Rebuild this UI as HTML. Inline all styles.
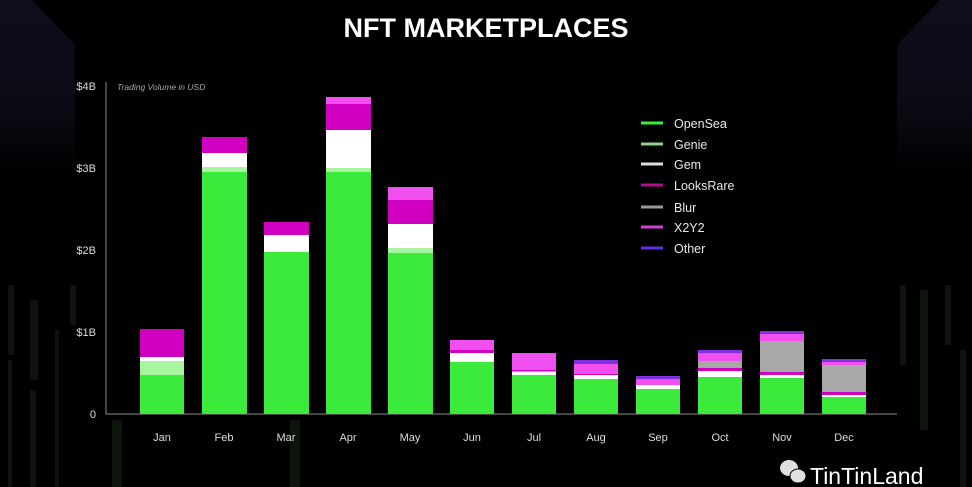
<!DOCTYPE html>
<html><head><meta charset="utf-8"><style>
html,body{margin:0;padding:0;background:#000;}
svg{display:block;font-family:"Liberation Sans",sans-serif;}
</style></head><body>
<svg width="972" height="487" viewBox="0 0 972 487" xmlns="http://www.w3.org/2000/svg">
<defs>
<linearGradient id="cg" x1="0" y1="0" x2="0" y2="1">
<stop offset="0" stop-color="#0e0e1c"/><stop offset="0.6" stop-color="#0b0b16"/><stop offset="1" stop-color="#000"/>
</linearGradient>
</defs>
<rect width="972" height="487" fill="#000"/>
<polygon points="0,0 32,0 75,45 75,175 0,175" fill="url(#cg)"/>
<polygon points="972,0 940,0 897,45 897,175 972,175" fill="url(#cg)"/>
<g fill="#0f1a0f" opacity="0.8">
<rect x="8" y="285" width="6" height="70"/><rect x="30" y="300" width="8" height="80"/><rect x="70" y="285" width="6" height="40"/>
<rect x="8" y="360" width="4" height="127"/><rect x="30" y="390" width="6" height="97"/><rect x="55" y="330" width="4" height="157"/>
<rect x="900" y="285" width="6" height="80"/><rect x="920" y="290" width="8" height="140"/><rect x="945" y="285" width="6" height="60"/><rect x="960" y="350" width="6" height="137"/>
<rect x="112" y="420" width="10" height="67"/><rect x="290" y="420" width="10" height="67"/>
</g>
<text x="486" y="37" text-anchor="middle" fill="#fff" font-size="27" font-weight="bold">NFT MARKETPLACES</text>
<g fill="#ddd" font-size="11" text-anchor="end">
<text x="96" y="90">$4B</text><text x="96" y="172">$3B</text><text x="96" y="254">$2B</text><text x="96" y="336">$1B</text><text x="96" y="418">0</text>
</g>
<text x="117" y="90" fill="#aaa" font-size="8.5" font-style="italic">Trading Volume in USD</text>
<line x1="106" y1="82" x2="106" y2="414" stroke="#888" stroke-width="1"/>
<line x1="106" y1="414" x2="897" y2="414" stroke="#888" stroke-width="1"/>
<g>
<rect x="140" y="329" width="44" height="28" fill="#d100c0"/><rect x="140" y="357" width="44" height="4" fill="#fff"/><rect x="140" y="361" width="44" height="14" fill="#a8f5a0"/><rect x="140" y="375" width="44" height="39" fill="#3cea3c"/>
<rect x="202" y="137" width="45" height="16" fill="#d100c0"/><rect x="202" y="153" width="45" height="14" fill="#fff"/><rect x="202" y="167" width="45" height="5" fill="#a8f5a0"/><rect x="202" y="172" width="45" height="242" fill="#3cea3c"/>
<rect x="264" y="222" width="45" height="13" fill="#d100c0"/><rect x="264" y="235" width="45" height="17" fill="#fff"/><rect x="264" y="252" width="45" height="162" fill="#3cea3c"/>
<rect x="326" y="97" width="45" height="7" fill="#f050f0"/><rect x="326" y="104" width="45" height="26" fill="#d100c0"/><rect x="326" y="130" width="45" height="38" fill="#fff"/><rect x="326" y="168" width="45" height="4" fill="#a8f5a0"/><rect x="326" y="172" width="45" height="242" fill="#3cea3c"/>
<rect x="388" y="187" width="45" height="13" fill="#f050f0"/><rect x="388" y="200" width="45" height="24" fill="#d100c0"/><rect x="388" y="224" width="45" height="24" fill="#fff"/><rect x="388" y="248" width="45" height="5" fill="#a8f5a0"/><rect x="388" y="253" width="45" height="161" fill="#3cea3c"/>
<rect x="450" y="340" width="44" height="10" fill="#f050f0"/><rect x="450" y="350" width="44" height="3" fill="#d100c0"/><rect x="450" y="353" width="44" height="9" fill="#fff"/><rect x="450" y="362" width="44" height="52" fill="#3cea3c"/>
<rect x="512" y="353" width="44" height="17" fill="#f050f0"/><rect x="512" y="370" width="44" height="1.5" fill="#d100c0"/><rect x="512" y="371.5" width="44" height="3.5" fill="#fff"/><rect x="512" y="375" width="44" height="39" fill="#3cea3c"/>
<rect x="574" y="360" width="44" height="4" fill="#8030e0"/><rect x="574" y="364" width="44" height="10" fill="#f050f0"/><rect x="574" y="374" width="44" height="1" fill="#d100c0"/><rect x="574" y="375" width="44" height="4" fill="#fff"/><rect x="574" y="379" width="44" height="35" fill="#3cea3c"/>
<rect x="636" y="376" width="44" height="3" fill="#8030e0"/><rect x="636" y="379" width="44" height="6" fill="#f050f0"/><rect x="636" y="385" width="44" height="4" fill="#fff"/><rect x="636" y="389" width="44" height="25" fill="#3cea3c"/>
<rect x="698" y="350" width="44" height="3" fill="#8030e0"/><rect x="698" y="353" width="44" height="8" fill="#f050f0"/><rect x="698" y="361" width="44" height="7" fill="#a8a8a8"/><rect x="698" y="368" width="44" height="3" fill="#d100c0"/><rect x="698" y="371" width="44" height="6" fill="#fff"/><rect x="698" y="377" width="44" height="37" fill="#3cea3c"/>
<rect x="760" y="331" width="44" height="3" fill="#8030e0"/><rect x="760" y="334" width="44" height="7" fill="#f050f0"/><rect x="760" y="341" width="44" height="31" fill="#a8a8a8"/><rect x="760" y="372" width="44" height="3" fill="#d100c0"/><rect x="760" y="375" width="44" height="3" fill="#fff"/><rect x="760" y="378" width="44" height="36" fill="#3cea3c"/>
<rect x="822" y="359" width="44" height="3" fill="#8030e0"/><rect x="822" y="362" width="44" height="3" fill="#f050f0"/><rect x="822" y="365" width="44" height="27" fill="#a8a8a8"/><rect x="822" y="392" width="44" height="3" fill="#d100c0"/><rect x="822" y="395" width="44" height="2" fill="#fff"/><rect x="822" y="397" width="44" height="17" fill="#3cea3c"/>
</g>
<g fill="#ddd" font-size="11" text-anchor="middle">
<text x="162" y="441">Jan</text><text x="224" y="441">Feb</text><text x="286" y="441">Mar</text><text x="348" y="441">Apr</text><text x="410" y="441">May</text><text x="472" y="441">Jun</text><text x="534" y="441">Jul</text><text x="596" y="441">Aug</text><text x="658" y="441">Sep</text><text x="720" y="441">Oct</text><text x="782" y="441">Nov</text><text x="844" y="441">Dec</text>
</g>
<g stroke-width="3">
<line x1="641" y1="123" x2="663" y2="123" stroke="#3cea3c"/>
<line x1="641" y1="144" x2="663" y2="144" stroke="#8fd08a"/>
<line x1="641" y1="164" x2="663" y2="164" stroke="#ddd"/>
<line x1="641" y1="185" x2="663" y2="185" stroke="#b0108f"/>
<line x1="641" y1="207" x2="663" y2="207" stroke="#999"/>
<line x1="641" y1="227" x2="663" y2="227" stroke="#d040d0"/>
<line x1="641" y1="248" x2="663" y2="248" stroke="#6030e0"/>
</g>
<g fill="#e8e8e8" font-size="12.5">
<text x="674" y="128">OpenSea</text><text x="674" y="149">Genie</text><text x="674" y="169">Gem</text><text x="674" y="190">LooksRare</text><text x="674" y="212">Blur</text><text x="674" y="232">X2Y2</text><text x="674" y="253">Other</text>
</g>
<g fill="#e0e0e0">
<ellipse cx="789" cy="468" rx="9" ry="8"/><ellipse cx="798" cy="476" rx="8" ry="7" stroke="#000" stroke-width="1"/>
</g>
<text x="810" y="484" fill="#fff" font-size="23">TinTinLand</text>
</svg>
</body></html>
